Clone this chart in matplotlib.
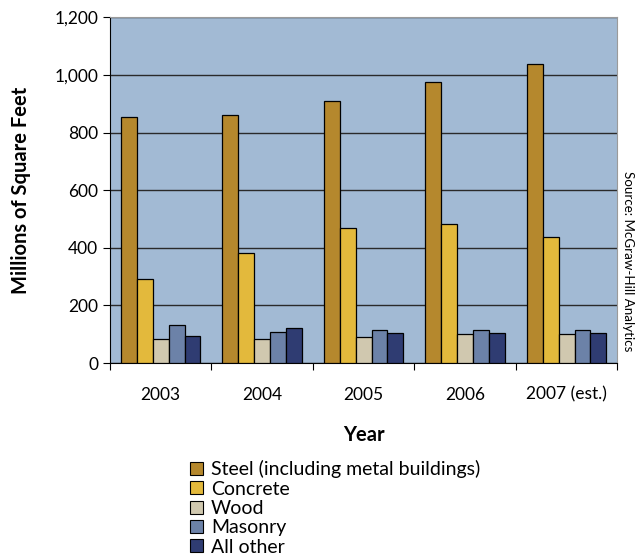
import numpy as np
import matplotlib.pyplot as plt
from matplotlib.ticker import FuncFormatter
from matplotlib.patches import Patch

plt.rcParams['font.family'] = ['Lato', 'DejaVu Sans']

years = ['2003', '2004', '2005', '2006', '2007 (est.)']
series_names = ['Steel (including metal buildings)', 'Concrete', 'Wood', 'Masonry', 'All other']
steel = [853, 860, 909, 975, 1037]
concrete = [291, 381, 468, 482, 437]
wood = [83, 83, 90, 100, 100]
masonry = [132, 108, 114, 114, 114]
other = [94, 121, 104, 104, 104]
colors = ['#B5882D', '#E3B93C', '#D0C8AF', '#6C82A8', '#2F3C72']


def create_plot():
	fig = plt.figure(figsize=(6.39, 5.56), dpi=100)
	ax = fig.add_axes([0.172, 0.347, 0.794, 0.622])
	ax.set_facecolor('#A2BAD4')
	return fig, ax


fig, ax = create_plot()
data = [steel, concrete, wood, masonry, other]
x = np.arange(len(years))
w = 0.157
for i, vals in enumerate(data):
	ax.bar(x + (i - 2) * w, vals, width=w, color=colors[i],
		   edgecolor='black', linewidth=0.9, zorder=3)

ax.set_xlim(-0.5, len(years) - 0.5)
ax.set_ylim(0, 1200)
ax.set_yticks(np.arange(0, 1201, 200))
ax.yaxis.set_major_formatter(FuncFormatter(lambda v, p: f'{int(v):,}'))
ax.yaxis.grid(True, color='#2a2a2a', linewidth=1.0, zorder=1)
ax.set_axisbelow(True)

ax.set_xticks(np.arange(len(years) + 1) - 0.5)
ax.set_xticklabels([])
ax.set_xticks(x, minor=True)
ax.set_xticklabels(years, minor=True)
ax.tick_params(axis='x', which='minor', length=0, pad=17, labelsize=12.5)
ax.tick_params(axis='x', which='major', length=5, direction='out')
ax.tick_params(axis='y', length=5, direction='out', labelsize=12.5)

for s in ['top', 'right']:
	ax.spines[s].set_color('#9a9a9a')
ax.spines['left'].set_color('black')
ax.spines['bottom'].set_color('black')

ax.set_ylabel('Millions of Square Feet', fontsize=14.5, fontweight='bold')
ax.yaxis.set_label_coords(-0.155, 0.5)
ax.set_xlabel('Year', fontsize=14.5, fontweight='bold', labelpad=16)

fig.text(0.983, 0.53, 'Source: McGraw-Hill Analytics', rotation=-90,
		 ha='center', va='center', fontsize=9.6)

handles = [Patch(facecolor=c, edgecolor='black', linewidth=0.8) for c in colors]
fig.legend(handles, series_names, loc='upper left', bbox_to_anchor=(0.298, 0.172),
		   frameon=False, fontsize=14, handlelength=0.65, handleheight=0.65,
		   handletextpad=0.4, labelspacing=0.12, borderpad=0, borderaxespad=0)

fig.savefig('out.png', dpi=100)
